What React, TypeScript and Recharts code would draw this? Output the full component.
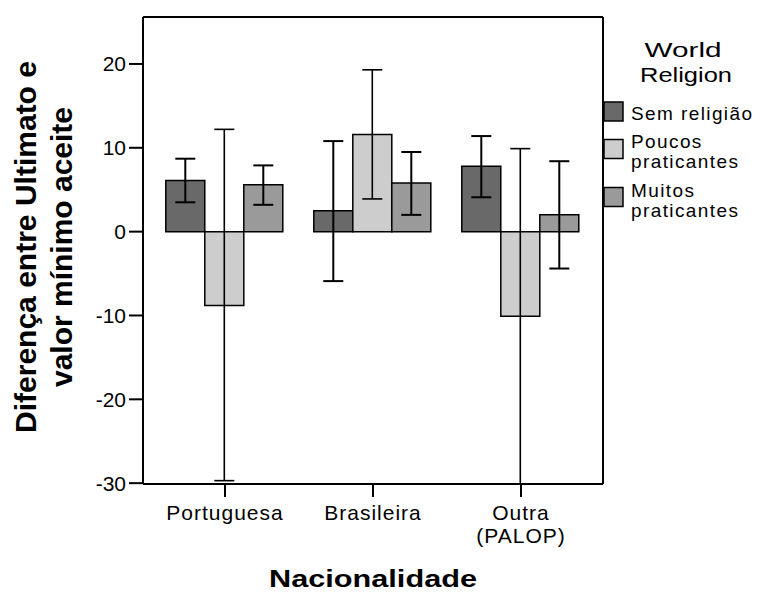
import { Bar, BarChart, ErrorBar, XAxis, YAxis } from "recharts";

const categories = ["Portuguesa", "Brasileira", "Outra\n(PALOP)"];
const seriesNames = ["Sem religião", "Poucos praticantes", "Muitos praticantes"];
const legendLines = [["Sem religião"], ["Poucos", "praticantes"], ["Muitos", "praticantes"]];
const COLORS = ["#696969", "#cdcdcd", "#9a9a9a"];

// medias e limites do intervalo
const semMean = [6.1, 2.5, 7.8];
const semLow = [3.5, -5.9, 4.1];
const semHigh = [8.7, 10.8, 11.4];

const poucosMean = [-8.8, 11.6, -10.1];
const poucosLow = [-29.7, 3.9, -30.1];
const poucosHigh = [12.2, 19.3, 9.9];

const muitosMean = [5.6, 5.8, 2.0];
const muitosLow = [3.2, 2.0, -4.4];
const muitosHigh = [7.9, 9.5, 8.4];

const yTicks = [-30, -20, -10, 0, 10, 20];

const data = categories.map((name, i) => ({
  name,
  sem: semMean[i],
  semErr: [semMean[i] - semLow[i], semHigh[i] - semMean[i]],
  poucos: poucosMean[i],
  poucosErr: [poucosMean[i] - poucosLow[i], poucosHigh[i] - poucosMean[i]],
  muitos: muitosMean[i],
  muitosErr: [muitosMean[i] - muitosLow[i], muitosHigh[i] - muitosMean[i]],
}));

const FONT = "'Liberation Sans', Arial, Helvetica, sans-serif";

function CategoryTick(props: any) {
  const { x, y, payload } = props;
  const lines = String(payload.value).split("\n");
  return (
    <text x={x} y={y} textAnchor="middle" fill="#000" fontSize={21} fontFamily={FONT} letterSpacing={1}>
      {lines.map((line, i) => (
        <tspan key={line} x={x} dy={i === 0 ? 21 : 22.6}>
          {line}
        </tspan>
      ))}
    </text>
  );
}

const axisStroke = { stroke: "#000", strokeWidth: 2 };

export default function App() {
  const keys = ["sem", "poucos", "muitos"];
  return (
    <div style={{ position: "relative", width: 760, height: 593, fontFamily: FONT }}>
      <style>{"body{margin:0;overflow:hidden}"}</style>
      <div style={{ position: "absolute", left: 8, top: 8 }}>
        <BarChart
          width={744}
          height={577}
          data={data}
          margin={{ top: 8, right: 148, bottom: 41, left: 0 }}
          barCategoryGap="10%"
          barGap={0}
        >
          <XAxis
            dataKey="name"
            height={60}
            interval={0}
            padding={{ left: 8, right: 8 }}
            tickSize={13}
            tickLine={axisStroke}
            axisLine={axisStroke}
            tick={<CategoryTick />}
          />
          <XAxis xAxisId="top" dataKey="name" orientation="top" height={1} tick={false} tickLine={false} axisLine={axisStroke} />
          <YAxis
            width={135}
            domain={[-30, 25.6]}
            ticks={yTicks}
            interval={0}
            tickSize={14}
            tickMargin={3}
            tickLine={axisStroke}
            axisLine={axisStroke}
            tick={{ fill: "#000", fontSize: 21, fontFamily: FONT }}
          />
          <YAxis yAxisId="right" orientation="right" width={1} domain={[-30, 25.6]} tick={false} tickLine={false} axisLine={axisStroke} />
          {keys.map((k, i) => (
            <Bar key={k} dataKey={k} name={seriesNames[i]} fill={COLORS[i]} stroke="#000" strokeWidth={1.5} isAnimationActive={false}>
              <ErrorBar dataKey={`${k}Err`} width={10} stroke="#000" strokeWidth={i === 1 ? 1.6 : 2} isAnimationActive={false} />
            </Bar>
          ))}
        </BarChart>
      </div>
      <svg
        width={760}
        height={593}
        style={{ position: "absolute", left: 0, top: 0, pointerEvents: "none" }}
        fontFamily={FONT}
      >
        <text transform="translate(36,247) rotate(-90)" textAnchor="middle" fontSize={29} fontWeight="bold" textLength={372} lengthAdjust="spacingAndGlyphs">
          Diferença entre Ultimato e
        </text>
        <text transform="translate(72,247) rotate(-90)" textAnchor="middle" fontSize={29} fontWeight="bold" textLength={280} lengthAdjust="spacingAndGlyphs">
          valor mínimo aceite
        </text>
        <text x={373} y={587} textAnchor="middle" fontSize={23} fontWeight="bold" textLength={208} lengthAdjust="spacingAndGlyphs">
          Nacionalidade
        </text>
        <text x={683} y={57} textAnchor="middle" fontSize={21} textLength={77} lengthAdjust="spacingAndGlyphs">
          World
        </text>
        <text x={686} y={82} textAnchor="middle" fontSize={21} textLength={92} lengthAdjust="spacingAndGlyphs">
          Religion
        </text>
        {legendLines.map((lines, i) => {
          const top = [102, 139.5, 187.5][i];
          const base = [120, 148, 197][i];
          return (
            <g key={i}>
              <rect x={604} y={top} width={19} height={19} fill={COLORS[i]} stroke="#000" strokeWidth={1.5} />
              {lines.map((line, j) => (
                <text key={j} x={631} y={base + j * 19.5} fontSize={19} letterSpacing={1.4}>
                  {line}
                </text>
              ))}
            </g>
          );
        })}
      </svg>
    </div>
  );
}
